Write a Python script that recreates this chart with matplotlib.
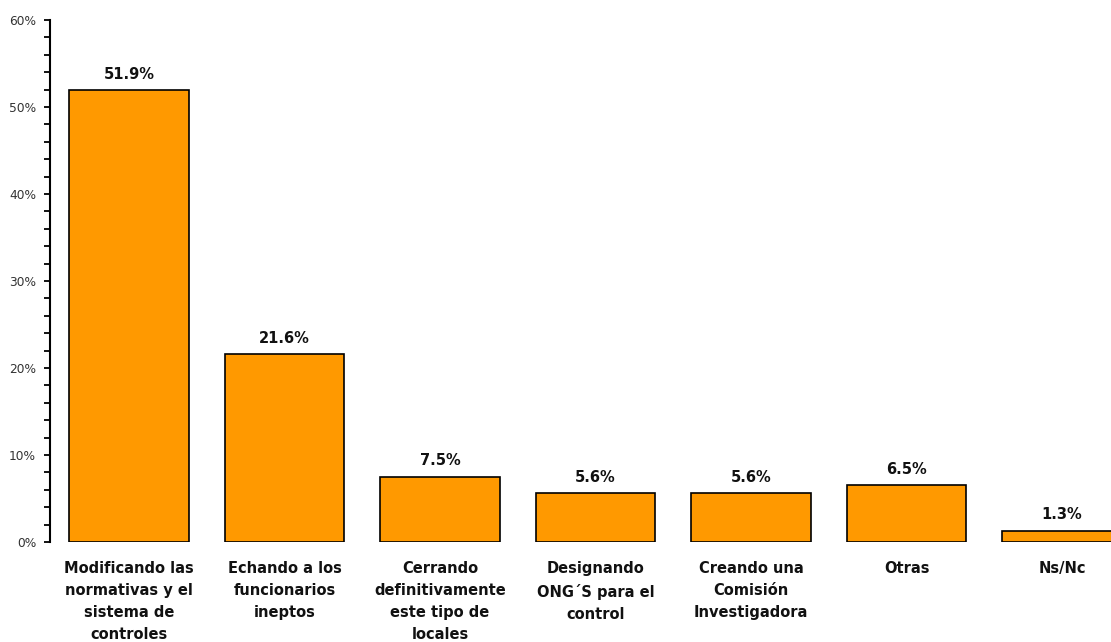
import matplotlib
matplotlib.use("Agg")
import matplotlib.pyplot as plt
from matplotlib.ticker import MultipleLocator, FuncFormatter

categories = [
    "Modificando las\nnormativas y el\nsistema de\ncontroles",
    "Echando a los\nfuncionarios\nineptos",
    "Cerrando\ndefinitivamente\neste tipo de\nlocales",
    "Designando\nONG´S para el\ncontrol",
    "Creando una\nComisión\nInvestigadora",
    "Otras",
    "Ns/Nc",
]
values = [51.9, 21.6, 7.5, 5.6, 5.6, 6.5, 1.3]
value_labels = ["51.9%", "21.6%", "7.5%", "5.6%", "5.6%", "6.5%", "1.3%"]

plt.rcParams['font.family'] = ['DejaVu Sans']

W, H = 1111, 642
fig = plt.figure(figsize=(W / 100, H / 100), dpi=100)
ax = fig.add_axes([50 / W, 100 / H, 1091 / W, 522 / H])

x = list(range(len(values)))
ax.bar(x, values, width=0.77, color="#FF9900", edgecolor="black", linewidth=1.2, zorder=2)

for xi, v, lab in zip(x, values, value_labels):
    ax.annotate(lab, (xi, v), xytext=(0, 6), textcoords="offset points",
                ha="center", va="bottom", fontsize=10.5, fontweight="bold", color="#111111")

ax.set_xlim(-0.508, len(values) - 0.492)
ax.set_ylim(0, 60)
ax.yaxis.set_major_locator(MultipleLocator(10))
ax.yaxis.set_minor_locator(MultipleLocator(2))
ax.yaxis.set_major_formatter(FuncFormatter(lambda v, p: f"{int(round(v))}%"))
ax.tick_params(axis="y", which="both", direction="out", length=4, width=1.3,
               labelsize=8.8, labelcolor="#333333", pad=6)
ax.set_xticks(x)
ax.set_xticklabels(categories, fontsize=10.5, fontweight="bold", color="#111111",
                   linespacing=1.6, va="top")
ax.tick_params(axis="x", length=0, pad=13.5)

for s in ["top", "right", "bottom"]:
    ax.spines[s].set_visible(False)
ax.spines["left"].set_linewidth(1.5)

fig.savefig("out.png", dpi=100)
